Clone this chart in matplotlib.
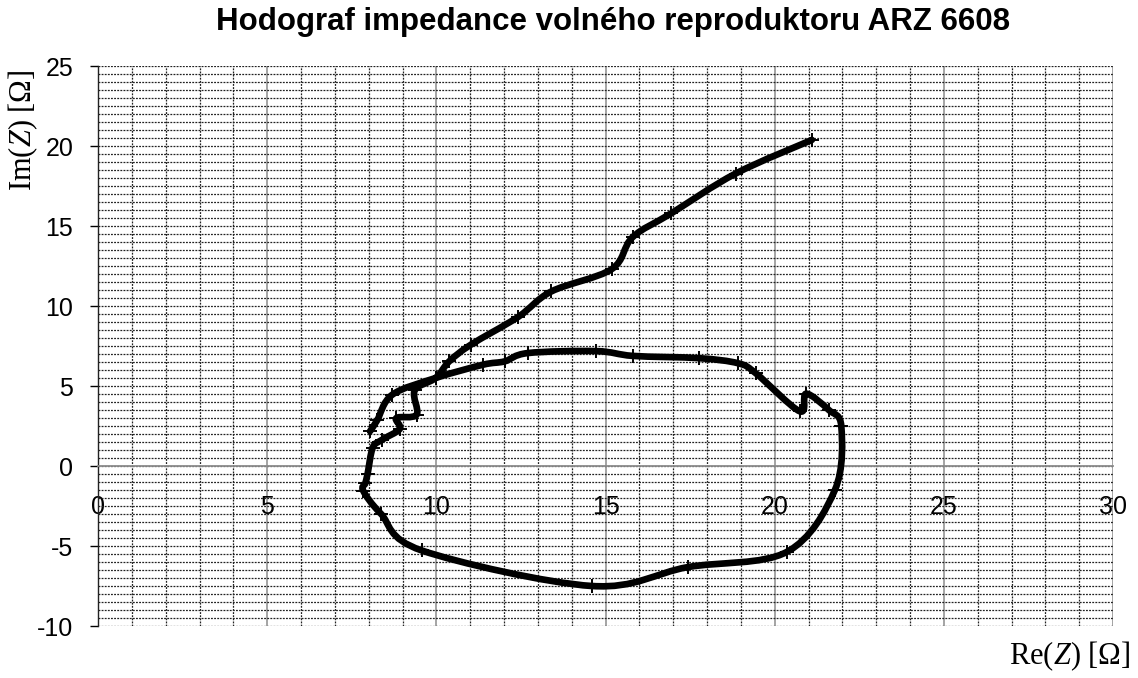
""" plot - impedance hodograph of a free loudspeaker ARZ 6608.
"""
import numpy as np
import matplotlib
matplotlib.use("Agg")
import matplotlib.pyplot as plt
from matplotlib.path import Path
from matplotlib.patches import PathPatch

#-------------------------------------------------------------------------------
# Measured points, in order of rising frequency (read from the picture)
re_z = [8.04, 8.25, 8.70, 9.98, 11.38, 12.02, 12.71, 14.73, 15.82, 17.76,
        18.92, 19.44, 20.74, 20.93, 21.60, 21.97, 21.78, 20.35, 17.43, 14.60,
        9.57, 8.36, 7.84, 7.90, 7.97, 8.12, 8.38, 8.92, 8.82, 9.42,
        9.36, 9.98, 10.38, 11.02, 12.42, 13.40, 15.18, 15.80, 16.95, 18.85,
        21.10]
im_z = [2.17, 2.85, 4.46, 5.50, 6.33, 6.54, 7.06, 7.18, 6.88, 6.74,
        6.42, 5.80, 3.42, 4.52, 3.50, 2.47, -1.50, -5.38, -6.32, -7.50,
        -5.28, -2.98, -1.55, -1.08, -0.47, 1.15, 1.62, 2.32, 3.00, 3.21,
        4.72, 5.50, 6.54, 7.58, 9.32, 10.91, 12.30, 14.30, 15.80, 18.28,
        20.38]

x_ticks = [0, 5, 10, 15, 20, 25, 30]
y_ticks = [-10, -5, 0, 5, 10, 15, 20, 25]

title = "Hodograf impedance volného reproduktoru ARZ 6608"

#-------------------------------------------------------------------------------
def smooth_path(xs, ys):
    """ Build a smoothed (Catmull-Rom like) bezier path through the points,
        the same kind of smoothing a spreadsheet uses for "smoothed line".
    """
    pts = np.column_stack([xs, ys])
    p = np.vstack([pts[0], pts, pts[-1]])
    verts = [pts[0]]
    codes = [Path.MOVETO]
    for i in range(1, len(p) - 2):
        p0, p1, p2, p3 = p[i - 1], p[i], p[i + 1], p[i + 2]
        verts += [p1 + (p2 - p0) / 6.0, p2 - (p3 - p1) / 6.0, p2]
        codes += [Path.CURVE4] * 3
    return Path(verts, codes)

#-------------------------------------------------------------------------------
plt.rcParams['axes.unicode_minus'] = False
plt.rcParams['mathtext.fontset'] = 'custom'
plt.rcParams['mathtext.rm'] = 'Liberation Serif'
plt.rcParams['mathtext.it'] = 'Liberation Serif:italic'

fig = plt.figure(figsize=(11.38, 6.78), dpi=100)
ax = fig.add_axes([98 / 1138, 1 - 626 / 678, 1015 / 1138, 560 / 678])

ax.set_xlim(0, 30)
ax.set_ylim(-10, 25)

# grid: x every 1 (dashed), every 5 (grey solid); y every 0.5 (dashed)
ax.set_xticks(x_ticks)
ax.set_xticks(np.arange(0, 31, 1), minor=True)
ax.set_yticks(y_ticks)
ax.set_yticks(np.arange(-10, 25.5, 0.5), minor=True)
ax.grid(which='minor', axis='x', color='#222222', lw=0.9, ls=(0, (1.5, 1)))
ax.grid(which='major', axis='x', color='#8c8c8c', lw=1.1)
ax.grid(which='both', axis='y', color='#222222', lw=0.9, ls=(0, (1.5, 1)))

for side in ['top', 'right']:
    ax.spines[side].set_visible(False)
ax.spines['bottom'].set_position(('data', 0))
ax.spines['bottom'].set_color('#8c8c8c')
ax.spines['bottom'].set_linewidth(1.3)
ax.spines['left'].set_color('#222222')
ax.spines['left'].set_linewidth(1.0)

ax.tick_params(axis='x', which='both', length=0, pad=21)
ax.tick_params(axis='y', which='major', length=8 * 0.72, width=1,
               direction='out', pad=12)
ax.tick_params(axis='y', which='minor', length=0)
for lbl in ax.get_xticklabels() + ax.get_yticklabels():
    lbl.set_fontfamily('Liberation Sans')
    lbl.set_fontsize(18)

# smoothed line + markers
patch = PathPatch(smooth_path(re_z, im_z), facecolor='none', edgecolor='black',
                  lw=4.8, capstyle='round', joinstyle='round', zorder=4)
ax.add_patch(patch)
ax.plot(re_z, im_z, ls='none', marker='+', ms=10, mew=1.4, color='black',
        zorder=5, clip_on=False)

fig.text(0.539, 0.967, title, ha='center', va='center',
         fontfamily='Liberation Sans', fontweight='bold', fontsize=22.5)
fig.text(0.020, 0.808, r'Im($Z$) [Ω]', rotation=90, ha='center', va='center',
         fontfamily='Liberation Serif', fontsize=22)
fig.text(0.993, 0.032, r'Re($Z$) [Ω]', ha='right', va='center',
         fontfamily='Liberation Serif', fontsize=22)

fig.savefig("out.png", dpi=100)
